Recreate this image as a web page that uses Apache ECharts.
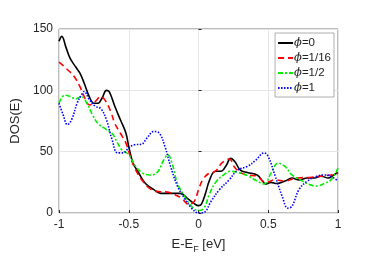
<!DOCTYPE html>
<html><head><meta charset="utf-8">
<script src="https://cdn.jsdelivr.net/npm/echarts@6/dist/echarts.min.js"></script>
<style>html,body{margin:0;padding:0;background:#fff}#c{width:374px;height:260px}</style>
</head><body><div id="c"></div>
<script>
const seriesNames = ['\u03d5=0', '\u03d5=1/16', '\u03d5=1/2', '\u03d5=1'];
const xTicks = [-1, -0.5, 0, 0.5, 1];
const yTicks = [0, 50, 100, 150];
const phi0 = [[-1,140],[-0.98,144],[-0.95,135],[-0.92,126],[-0.88,119],[-0.85,114],[-0.82,106],[-0.78,94],[-0.75,89.5],[-0.72,89.5],[-0.69,94],[-0.66,100],[-0.64,99],[-0.6,87],[-0.56,76],[-0.52,65],[-0.5,54],[-0.47,41],[-0.43,33],[-0.38,24],[-0.32,19],[-0.27,16],[-0.2,16],[-0.13,16],[-0.08,12],[-0.03,7.6],[0,6],[0.02,7],[0.05,16],[0.08,27],[0.12,34],[0.16,34],[0.2,39],[0.23,44.5],[0.26,42],[0.3,35],[0.35,33],[0.42,31],[0.46,26],[0.48,23.6],[0.52,25],[0.56,24],[0.62,26],[0.67,28.5],[0.72,27],[0.78,28.5],[0.83,28.5],[0.88,30],[0.93,28.5],[0.97,31],[1,33]];
const phi116 = [[-1,123],[-0.94,117],[-0.89,111],[-0.85,103],[-0.82,95],[-0.78,88],[-0.74,91],[-0.7,95],[-0.67,92],[-0.63,83],[-0.6,73],[-0.56,65],[-0.52,57],[-0.48,43],[-0.44,33],[-0.4,26],[-0.35,20],[-0.3,17.6],[-0.22,17],[-0.17,15],[-0.12,12],[-0.07,7],[-0.03,9.5],[0,19],[0.03,27],[0.07,32],[0.12,34],[0.17,41],[0.22,44],[0.26,37],[0.3,33],[0.35,31],[0.42,30],[0.48,25],[0.55,27],[0.62,26],[0.7,28.5],[0.8,29],[0.87,30],[0.95,31],[1,32.5]];
const phi12 = [[-1,89.5],[-0.96,96],[-0.92,95],[-0.88,93],[-0.84,95],[-0.8,89.5],[-0.76,80],[-0.72,73],[-0.66,68],[-0.62,65],[-0.58,57],[-0.55,51.5],[-0.5,47.5],[-0.45,38],[-0.4,32.5],[-0.35,31],[-0.3,32.5],[-0.25,43],[-0.22,47.5],[-0.19,40.7],[-0.15,24],[-0.1,13.6],[-0.05,5.4],[0,2],[0.04,4],[0.08,16],[0.13,26],[0.18,31],[0.23,34],[0.3,32.5],[0.36,30],[0.42,26],[0.47,23.6],[0.52,32.5],[0.57,40.7],[0.62,38],[0.67,31],[0.73,27],[0.8,23],[0.85,22],[0.9,24],[0.95,27],[1,36.6]];
const phi1 = [[-1,89.5],[-0.97,80],[-0.94,72],[-0.91,76],[-0.87,89.5],[-0.84,96],[-0.82,99],[-0.78,92],[-0.74,87],[-0.7,85],[-0.66,76],[-0.62,60],[-0.58,49],[-0.54,49],[-0.5,53],[-0.46,55.6],[-0.41,56],[-0.37,61],[-0.32,66.5],[-0.28,65],[-0.24,54],[-0.2,38],[-0.15,21.7],[-0.1,12],[-0.05,4],[0,0],[0.04,0.5],[0.09,9.5],[0.15,19],[0.22,27],[0.28,35],[0.35,38],[0.41,43],[0.47,49],[0.5,46],[0.55,30],[0.6,13.6],[0.64,4],[0.67,5.4],[0.72,19],[0.78,26],[0.85,30],[0.9,31],[0.95,30],[1,26]];

const colors = ['#000000', '#ff0000', '#00ee00', '#0000ff'];
const types = ['solid', [6,4], [5,2,2,2], [1.5,1.5]];
const datas = [phi0, phi116, phi12, phi1];
const chart = echarts.init(document.getElementById('c'));
const fmt = v => (v === -1 ? '-1' : v === 1 ? '1' : v === 0 ? '0' : String(v));
chart.setOption({
  animation: false,
  textStyle: {fontFamily: 'Liberation Sans'},
  grid: {left: 59, right: 36, top: 29, bottom: 47, show: true, borderColor: '#262626', borderWidth: 0.6},
  legend: {
    orient: 'vertical', right: 40, top: 33, itemWidth: 15, itemHeight: 11, itemGap: 3,
    padding: [4, 3, 3, 2], borderColor: '#999', borderWidth: 0.8, backgroundColor: '#fff',
    itemStyle: {opacity: 0},
    data: seriesNames,
    formatter: n => '{i|\u03d5}{n|' + n.slice(1) + '}',
    textStyle: {padding: [0,0,0,-4], rich: {
      i: {fontSize: 11.5, fontStyle: 'italic', color: '#222', fontFamily: 'DejaVu Serif'},
      n: {fontSize: 11.5, color: '#222'}
    }}
  },
  xAxis: {
    type: 'value', min: -1, max: 1, interval: 0.5,
    name: '{a|E-E}{b|F}{a| [eV]}', nameLocation: 'middle', nameGap: 22,
    nameTextStyle: {rich: {a: {fontSize: 13, color: '#262626'}, b: {fontSize: 9, color: '#262626', padding: [10,0,0,0]}}},
    axisLine: {show: false}, axisTick: {inside: true, length: 3, lineStyle: {color: '#262626'}},
    axisLabel: {fontSize: 12, color: '#262626', formatter: fmt, margin: 6},
    splitLine: {lineStyle: {color: '#e6e6e6', width: 1}}
  },
  yAxis: {
    type: 'value', min: 0, max: 150, interval: 50,
    name: 'DOS(E)', nameLocation: 'middle', nameGap: 27,
    nameTextStyle: {fontSize: 13, color: '#262626'},
    axisLine: {show: false}, axisTick: {inside: true, length: 3, lineStyle: {color: '#262626'}},
    axisLabel: {fontSize: 12, color: '#262626', margin: 6},
    splitLine: {lineStyle: {color: '#e6e6e6', width: 1}}
  },
  series: datas.map((d, i) => ({
    name: seriesNames[i], type: 'line', data: d, smooth: 0.4, symbol: 'none',
    lineStyle: {color: colors[i], width: 1.6, type: types[i]},
    itemStyle: {color: colors[i]}
  }))
});
</script></body></html>
